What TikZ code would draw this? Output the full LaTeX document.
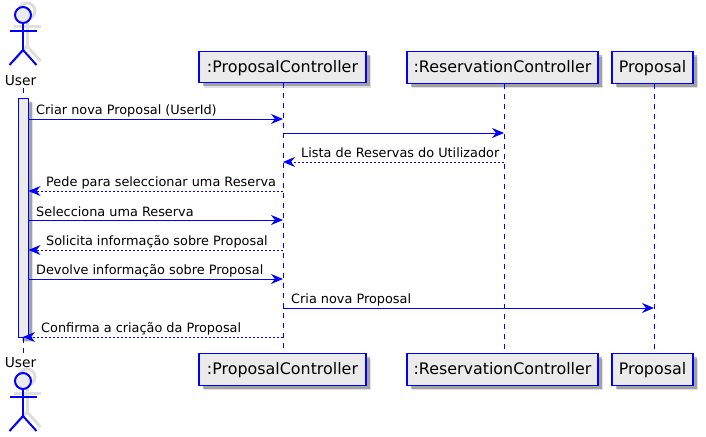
\documentclass[tikz,border=0pt]{standalone}
\usepackage{fontspec}
\setmainfont{DejaVu Sans}
\usetikzlibrary{arrows.meta,shadows}

\definecolor{seqblue}{RGB}{0,0,255}
\definecolor{boxfill}{RGB}{235,235,235}

\tikzset{
  softshadow/.style={
    general shadow={shadow xshift=5pt,shadow yshift=-5pt,fill=black,opacity=0.12},
    general shadow={shadow xshift=3.5pt,shadow yshift=-3.5pt,fill=black,opacity=0.28}},
  partbox/.style={draw=seqblue,line width=1.4pt,fill=boxfill,inner sep=0pt,minimum height=31.5pt,
    text height=12.5pt,text depth=2.5pt,font=\fontsize{15.9}{18}\selectfont,softshadow},
  lifeline/.style={draw=seqblue,line width=1pt,dash pattern=on 5pt off 5pt},
  msg/.style={draw=seqblue,line width=1pt,-{Stealth[length=12pt,width=10pt,inset=4pt]}},
  msgback/.style={msg,dash pattern=on 2pt off 2pt},
  msglabel/.style={anchor=base west,inner sep=0pt,font=\fontsize{12.85}{15}\selectfont},
  actorlabel/.style={anchor=base,inner sep=0pt,font=\fontsize{13.8}{16}\selectfont},
  actorline/.style={draw=seqblue,line width=2pt,fill=boxfill},
  actorshade/.style={draw=black!13,line width=3pt}
}

% Omino
\newcommand{\stickman}[3]{
  \begin{scope}[shift={(#1,#2)},#3]
    \draw (0,8) -- (0,35);
    \draw (-13.5,16) -- (13.5,16);
    \draw (-13.5,50) -- (0,35) -- (13.5,50);
    \path[#3] (0,0) circle (8);
  \end{scope}
}

\begin{document}
\begin{tikzpicture}[x=1pt,y=-1pt]
\useasboundingbox (0,0) rectangle (706,436);

% Linee di vita
\coordinate (userLine) at (23,0);
\coordinate (propLine) at (283,0);
\coordinate (resLine) at (504,0);
\coordinate (offerLine) at (654,0);

% Partecipanti
\node[partbox,minimum width=167pt] (propTop) at (282.5,67) {:ProposalController};
\node[partbox,minimum width=191pt] (resTop) at (502.5,67.5) {:ReservationController};
\node[partbox,minimum width=81pt] (offerTop) at (652.5,67.5) {Proposal};
\node[partbox,minimum width=167pt] (propBot) at (282.5,369.5) {:ProposalController};
\node[partbox,minimum width=191pt] (resBot) at (502.5,369.5) {:ReservationController};
\node[partbox,minimum width=81pt] (offerBot) at (652.5,369.5) {Proposal};

\draw[lifeline] (propLine |- propTop.south) -- (propLine |- propBot.north);
\draw[lifeline] (resLine |- resTop.south) -- (resLine |- resBot.north);
\draw[lifeline] (offerLine |- offerTop.south) -- (offerLine |- offerBot.north);

% Attore
\stickman{27}{11}{actorshade}
\stickman{27}{377}{actorshade}
\stickman{23}{15}{actorline}
\stickman{23}{381}{actorline}
\node[actorlabel] (userTop) at (20.5,85) {User};
\node[actorlabel] (userBot) at (20.5,367) {User};
\draw[lifeline] (userLine |- 0,88) -- (userLine |- 0,354);

% Barra di attivazione
\node[draw=seqblue,line width=1pt,fill=boxfill,inner sep=0pt,minimum width=10pt,minimum height=239pt,
  softshadow] (userBar) at (23,217.5) {};

% Messaggi
\draw[msg] (userBar.east |- 0,119) -- (propLine |- 0,119);
\draw[msg] (propLine |- 0,133) -- (resLine |- 0,133);
\draw[msgback] (resLine |- 0,162) -- (propLine |- 0,162);
\draw[msgback] (propLine |- 0,191) -- (userBar.east |- 0,191);
\draw[msg] (userBar.east |- 0,220) -- (propLine |- 0,220);
\draw[msgback] (propLine |- 0,250) -- (userBar.east |- 0,250);
\draw[msg] (userBar.east |- 0,279) -- (propLine |- 0,279);
\draw[msg] (propLine |- 0,308) -- (offerLine |- 0,308);
\draw[msgback] (propLine |- 0,337) -- (userLine |- 0,337);

% Etichette
\node[msglabel] (lblNew) at (36,114) {Criar nova Proposal (UserId)};
\node[msglabel] (lblList) at (301,157) {Lista de Reservas do Utilizador};
\node[msglabel] (lblAsk) at (46,186) {Pede para seleccionar uma Reserva};
\node[msglabel] (lblPick) at (36,216) {Selecciona uma Reserva};
\node[msglabel] (lblInfo) at (46,245) {Solicita informação sobre Proposal};
\node[msglabel] (lblBack) at (36,274) {Devolve informação sobre Proposal};
\node[msglabel] (lblMake) at (291,303) {Cria nova Proposal};
\node[msglabel] (lblDone) at (41,332) {Confirma a criação da Proposal};
\end{tikzpicture}
\end{document}
